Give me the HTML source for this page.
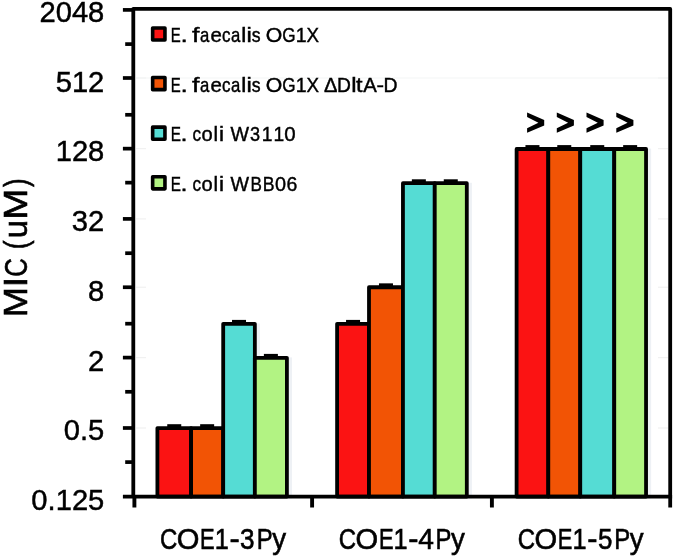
<!DOCTYPE html>
<html><head><meta charset="utf-8"><title>MIC chart</title>
<style>html,body{margin:0;padding:0;background:#fff;}svg{display:block}text{font-family:"Liberation Sans",sans-serif;fill:#000;stroke:#000}</style></head>
<body>
<svg style="will-change:transform;filter:blur(0.35px)" stroke-width="0.3" width="674" height="557" viewBox="0 0 674 557">
<rect width="674" height="557" fill="#fff"/>
<line x1="136" y1="496.50" x2="146" y2="496.50" stroke="#f1f1f1" stroke-width="1.2"/>
<line x1="658" y1="496.50" x2="668" y2="496.50" stroke="#f1f1f1" stroke-width="1.2"/>
<line x1="136" y1="428.00" x2="146" y2="428.00" stroke="#f1f1f1" stroke-width="1.2"/>
<line x1="658" y1="428.00" x2="668" y2="428.00" stroke="#f1f1f1" stroke-width="1.2"/>
<line x1="136" y1="357.60" x2="146" y2="357.60" stroke="#f1f1f1" stroke-width="1.2"/>
<line x1="658" y1="357.60" x2="668" y2="357.60" stroke="#f1f1f1" stroke-width="1.2"/>
<line x1="136" y1="287.25" x2="146" y2="287.25" stroke="#f1f1f1" stroke-width="1.2"/>
<line x1="658" y1="287.25" x2="668" y2="287.25" stroke="#f1f1f1" stroke-width="1.2"/>
<line x1="136" y1="218.90" x2="146" y2="218.90" stroke="#f1f1f1" stroke-width="1.2"/>
<line x1="658" y1="218.90" x2="668" y2="218.90" stroke="#f1f1f1" stroke-width="1.2"/>
<line x1="136" y1="148.65" x2="146" y2="148.65" stroke="#f1f1f1" stroke-width="1.2"/>
<line x1="658" y1="148.65" x2="668" y2="148.65" stroke="#f1f1f1" stroke-width="1.2"/>
<line x1="136" y1="78.00" x2="146" y2="78.00" stroke="#f1f1f1" stroke-width="1.2"/>
<line x1="658" y1="78.00" x2="668" y2="78.00" stroke="#f1f1f1" stroke-width="1.2"/>
<line x1="136" y1="9.90" x2="146" y2="9.90" stroke="#f1f1f1" stroke-width="1.2"/>
<line x1="658" y1="9.90" x2="668" y2="9.90" stroke="#f1f1f1" stroke-width="1.2"/>
<line x1="136" y1="78.00" x2="668" y2="78.00" stroke="#f3f5f6" stroke-width="1.2"/>
<rect x="160.60" y="429.60" width="33.70" height="67.00" fill="#eef1f5" stroke="#eef1f5" stroke-width="3.8"/>
<rect x="194.30" y="429.60" width="32.10" height="67.00" fill="#eef1f5" stroke="#eef1f5" stroke-width="3.8"/>
<rect x="226.40" y="325.30" width="31.65" height="171.30" fill="#eef1f5" stroke="#eef1f5" stroke-width="3.8"/>
<rect x="258.05" y="359.30" width="32.05" height="137.30" fill="#eef1f5" stroke="#eef1f5" stroke-width="3.8"/>
<rect x="157.40" y="428.10" width="33.70" height="68.50" fill="#fb1313" stroke="#000" stroke-width="3.8" stroke-linejoin="round"/>
<rect x="191.10" y="428.10" width="32.10" height="68.50" fill="#f25405" stroke="#000" stroke-width="3.8" stroke-linejoin="round"/>
<rect x="223.20" y="323.80" width="31.65" height="172.80" fill="#55dcd4" stroke="#000" stroke-width="3.8" stroke-linejoin="round"/>
<rect x="254.85" y="357.80" width="32.05" height="138.80" fill="#b2f383" stroke="#000" stroke-width="3.8" stroke-linejoin="round"/>
<rect x="167.25" y="424.20" width="14" height="4.5" fill="#000"/>
<rect x="200.15" y="424.20" width="14" height="4.5" fill="#000"/>
<rect x="232.02" y="319.90" width="14" height="4.5" fill="#000"/>
<rect x="263.88" y="353.90" width="14" height="4.5" fill="#000"/>
<rect x="340.30" y="325.30" width="31.90" height="171.30" fill="#eef1f5" stroke="#eef1f5" stroke-width="3.8"/>
<rect x="372.20" y="288.75" width="33.95" height="207.85" fill="#eef1f5" stroke="#eef1f5" stroke-width="3.8"/>
<rect x="406.15" y="184.70" width="31.80" height="311.90" fill="#eef1f5" stroke="#eef1f5" stroke-width="3.8"/>
<rect x="437.95" y="184.70" width="32.05" height="311.90" fill="#eef1f5" stroke="#eef1f5" stroke-width="3.8"/>
<rect x="337.10" y="323.80" width="31.90" height="172.80" fill="#fb1313" stroke="#000" stroke-width="3.8" stroke-linejoin="round"/>
<rect x="369.00" y="287.25" width="33.95" height="209.35" fill="#f25405" stroke="#000" stroke-width="3.8" stroke-linejoin="round"/>
<rect x="402.95" y="183.20" width="31.80" height="313.40" fill="#55dcd4" stroke="#000" stroke-width="3.8" stroke-linejoin="round"/>
<rect x="434.75" y="183.20" width="32.05" height="313.40" fill="#b2f383" stroke="#000" stroke-width="3.8" stroke-linejoin="round"/>
<rect x="346.05" y="319.90" width="14" height="4.5" fill="#000"/>
<rect x="378.98" y="283.35" width="14" height="4.5" fill="#000"/>
<rect x="411.85" y="179.30" width="14" height="4.5" fill="#000"/>
<rect x="443.77" y="179.30" width="14" height="4.5" fill="#000"/>
<rect x="519.80" y="150.50" width="31.70" height="346.10" fill="#eef1f5" stroke="#eef1f5" stroke-width="3.8"/>
<rect x="551.50" y="150.50" width="31.95" height="346.10" fill="#eef1f5" stroke="#eef1f5" stroke-width="3.8"/>
<rect x="583.45" y="150.50" width="34.00" height="346.10" fill="#eef1f5" stroke="#eef1f5" stroke-width="3.8"/>
<rect x="617.45" y="150.50" width="31.80" height="346.10" fill="#eef1f5" stroke="#eef1f5" stroke-width="3.8"/>
<rect x="516.60" y="149.00" width="31.70" height="347.60" fill="#fb1313" stroke="#000" stroke-width="3.8" stroke-linejoin="round"/>
<rect x="548.30" y="149.00" width="31.95" height="347.60" fill="#f25405" stroke="#000" stroke-width="3.8" stroke-linejoin="round"/>
<rect x="580.25" y="149.00" width="34.00" height="347.60" fill="#55dcd4" stroke="#000" stroke-width="3.8" stroke-linejoin="round"/>
<rect x="614.25" y="149.00" width="31.80" height="347.60" fill="#b2f383" stroke="#000" stroke-width="3.8" stroke-linejoin="round"/>
<rect x="525.45" y="145.10" width="14" height="4.5" fill="#000"/>
<rect x="557.27" y="145.10" width="14" height="4.5" fill="#000"/>
<rect x="590.25" y="145.10" width="14" height="4.5" fill="#000"/>
<rect x="623.15" y="145.10" width="14" height="4.5" fill="#000"/>
<path d="M133.30 496.60V8.95H670.20V507.50" fill="none" stroke="#000" stroke-width="3.8" stroke-linejoin="round"/>
<line x1="122.9" y1="496.60" x2="672.10" y2="496.60" stroke="#000" stroke-width="3.9"/>
<line x1="134.4" y1="496.60" x2="134.4" y2="507.50" stroke="#000" stroke-width="3.9"/>
<line x1="312.1" y1="496.60" x2="312.1" y2="507.50" stroke="#000" stroke-width="3.9"/>
<line x1="491.9" y1="496.60" x2="491.9" y2="507.50" stroke="#000" stroke-width="3.9"/>
<line x1="125.2" y1="462.10" x2="133.30" y2="462.10" stroke="#000" stroke-width="3.7"/>
<line x1="122.9" y1="428.00" x2="133.30" y2="428.00" stroke="#000" stroke-width="3.7"/>
<line x1="125.2" y1="391.80" x2="133.30" y2="391.80" stroke="#000" stroke-width="3.7"/>
<line x1="122.9" y1="357.60" x2="133.30" y2="357.60" stroke="#000" stroke-width="3.7"/>
<line x1="125.2" y1="323.70" x2="133.30" y2="323.70" stroke="#000" stroke-width="3.7"/>
<line x1="122.9" y1="287.25" x2="133.30" y2="287.25" stroke="#000" stroke-width="3.7"/>
<line x1="125.2" y1="253.20" x2="133.30" y2="253.20" stroke="#000" stroke-width="3.7"/>
<line x1="122.9" y1="218.90" x2="133.30" y2="218.90" stroke="#000" stroke-width="3.7"/>
<line x1="125.2" y1="182.65" x2="133.30" y2="182.65" stroke="#000" stroke-width="3.7"/>
<line x1="122.9" y1="148.65" x2="133.30" y2="148.65" stroke="#000" stroke-width="3.7"/>
<line x1="125.2" y1="114.80" x2="133.30" y2="114.80" stroke="#000" stroke-width="3.7"/>
<line x1="122.9" y1="78.00" x2="133.30" y2="78.00" stroke="#000" stroke-width="3.7"/>
<line x1="125.2" y1="44.10" x2="133.30" y2="44.10" stroke="#000" stroke-width="3.7"/>
<line x1="122.9" y1="9.90" x2="133.30" y2="9.90" stroke="#000" stroke-width="3.7"/>
<text transform="translate(104.3,510.00) scale(1.012,1)" font-size="28.8" text-anchor="end" stroke-width="0.45">0.125</text>
<text transform="translate(104.3,440.27) scale(1.012,1)" font-size="28.8" text-anchor="end" stroke-width="0.45">0.5</text>
<text transform="translate(104.3,370.54) scale(1.012,1)" font-size="28.8" text-anchor="end" stroke-width="0.45">2</text>
<text transform="translate(104.3,300.81) scale(1.012,1)" font-size="28.8" text-anchor="end" stroke-width="0.45">8</text>
<text transform="translate(104.3,231.08) scale(1.012,1)" font-size="28.8" text-anchor="end" stroke-width="0.45">32</text>
<text transform="translate(104.3,161.35) scale(1.012,1)" font-size="28.8" text-anchor="end" stroke-width="0.45">128</text>
<text transform="translate(104.3,91.62) scale(1.012,1)" font-size="28.8" text-anchor="end" stroke-width="0.45">512</text>
<text transform="translate(104.3,21.89) scale(1.012,1)" font-size="28.8" text-anchor="end" stroke-width="0.45">2048</text>
<g transform="translate(27.1,314.3) rotate(-90)" stroke-width="0.6">
<text transform="translate(-2.98,0.00) scale(1.125,1)" font-size="32.3">M</text>
<text transform="translate(27.14,0.00) scale(1.162,1)" font-size="32.3">I</text>
<text transform="translate(37.49,0.00) scale(0.797,1)" font-size="32.3">C</text>
<text transform="translate(64.96,0.00) scale(0.817,1)" font-size="32.3">(</text>
<text transform="translate(75.96,0.00) scale(1.020,1)" font-size="32.3">u</text>
<text transform="translate(94.45,0.00) scale(1.152,1)" font-size="32.3">M</text>
<text transform="translate(127.35,0.00) scale(0.794,1)" font-size="32.3">)</text>
</g>
<g stroke-width="0.6">
<text transform="translate(159.98,549.40) scale(0.822,1)" font-size="29.2">C</text>
<text transform="translate(176.72,549.40) scale(0.998,1)" font-size="29.2">O</text>
<text transform="translate(200.10,549.40) scale(0.752,1)" font-size="29.2">E</text>
<text transform="translate(229.53,549.40) scale(1.052,1)" font-size="29.2">-</text>
<text transform="translate(240.10,549.40) scale(0.896,1)" font-size="29.2">3</text>
<text transform="translate(256.64,549.40) scale(0.817,1)" font-size="29.2">P</text>
<text transform="translate(272.13,549.40) scale(0.947,1)" font-size="29.2">y</text>
<text transform="translate(214.77,549.40) scale(0.866,1)" font-size="29.2">1</text>
<text transform="translate(338.78,549.40) scale(0.822,1)" font-size="29.2">C</text>
<text transform="translate(355.52,549.40) scale(0.998,1)" font-size="29.2">O</text>
<text transform="translate(378.90,549.40) scale(0.752,1)" font-size="29.2">E</text>
<text transform="translate(408.34,549.40) scale(1.052,1)" font-size="29.2">-</text>
<text transform="translate(418.35,549.40) scale(0.965,1)" font-size="29.2">4</text>
<text transform="translate(435.44,549.40) scale(0.817,1)" font-size="29.2">P</text>
<text transform="translate(450.93,549.40) scale(0.947,1)" font-size="29.2">y</text>
<text transform="translate(393.57,549.40) scale(0.866,1)" font-size="29.2">1</text>
<text transform="translate(517.68,549.40) scale(0.822,1)" font-size="29.2">C</text>
<text transform="translate(534.42,549.40) scale(0.998,1)" font-size="29.2">O</text>
<text transform="translate(557.80,549.40) scale(0.752,1)" font-size="29.2">E</text>
<text transform="translate(587.24,549.40) scale(1.052,1)" font-size="29.2">-</text>
<text transform="translate(597.96,549.40) scale(0.888,1)" font-size="29.2">5</text>
<text transform="translate(614.34,549.40) scale(0.817,1)" font-size="29.2">P</text>
<text transform="translate(629.83,549.40) scale(0.947,1)" font-size="29.2">y</text>
<text transform="translate(572.47,549.40) scale(0.866,1)" font-size="29.2">1</text>
</g>
<rect x="152.65" y="27.95" width="12.3" height="12.1" fill="#fb1313" stroke="#000" stroke-width="3.6" stroke-linejoin="round"/>
<g stroke-width="0.42">
<text transform="translate(170.77,42.40) scale(0.762,1)" font-size="19.6">E</text>
<text transform="translate(180.50,42.40) scale(1.340,1)" font-size="19.6">.</text>
<text transform="translate(192.02,42.40) scale(1.366,1)" font-size="19.6">f</text>
<text transform="translate(199.89,42.40) scale(0.854,1)" font-size="19.6">a</text>
<text transform="translate(210.43,42.40) scale(1.044,1)" font-size="19.6">e</text>
<text transform="translate(221.88,42.40) scale(0.864,1)" font-size="19.6">c</text>
<text transform="translate(230.99,42.40) scale(0.854,1)" font-size="19.6">a</text>
<text transform="translate(241.27,42.40) scale(1.161,1)" font-size="19.6">l</text>
<text transform="translate(246.40,42.40) scale(1.219,1)" font-size="19.6">i</text>
<text transform="translate(251.71,42.40) scale(0.901,1)" font-size="19.6">s</text>
<text transform="translate(265.69,42.40) scale(1.084,1)" font-size="19.6">O</text>
<text transform="translate(282.34,42.40) scale(0.875,1)" font-size="19.6">G</text>
<text transform="translate(306.48,42.40) scale(0.957,1)" font-size="19.6">X</text>
<text transform="translate(295.82,42.40) scale(0.994,1)" font-size="19.6">1</text>
</g>
<rect x="152.65" y="77.55" width="12.3" height="12.1" fill="#f25405" stroke="#000" stroke-width="3.6" stroke-linejoin="round"/>
<g stroke-width="0.42">
<text transform="translate(170.77,91.80) scale(0.762,1)" font-size="19.6">E</text>
<text transform="translate(180.50,91.80) scale(1.340,1)" font-size="19.6">.</text>
<text transform="translate(192.02,91.80) scale(1.366,1)" font-size="19.6">f</text>
<text transform="translate(199.89,91.80) scale(0.854,1)" font-size="19.6">a</text>
<text transform="translate(210.43,91.80) scale(1.044,1)" font-size="19.6">e</text>
<text transform="translate(221.88,91.80) scale(0.864,1)" font-size="19.6">c</text>
<text transform="translate(230.99,91.80) scale(0.854,1)" font-size="19.6">a</text>
<text transform="translate(241.27,91.80) scale(1.161,1)" font-size="19.6">l</text>
<text transform="translate(246.40,91.80) scale(1.219,1)" font-size="19.6">i</text>
<text transform="translate(251.71,91.80) scale(0.901,1)" font-size="19.6">s</text>
<text transform="translate(265.69,91.80) scale(1.084,1)" font-size="19.6">O</text>
<text transform="translate(282.34,91.80) scale(0.875,1)" font-size="19.6">G</text>
<text transform="translate(306.48,91.80) scale(0.957,1)" font-size="19.6">X</text>
<text transform="translate(323.90,91.80) scale(1.024,1)" font-size="19.6">Δ</text>
<text transform="translate(336.92,91.80) scale(0.982,1)" font-size="19.6">D</text>
<text transform="translate(351.19,91.80) scale(1.219,1)" font-size="19.6">l</text>
<text transform="translate(355.94,91.80) scale(1.199,1)" font-size="19.6">t</text>
<text transform="translate(363.16,91.80) scale(1.039,1)" font-size="19.6">A</text>
<text transform="translate(376.60,91.80) scale(1.149,1)" font-size="19.6">-</text>
<text transform="translate(383.61,91.80) scale(0.991,1)" font-size="19.6">D</text>
<text transform="translate(295.82,91.80) scale(0.994,1)" font-size="19.6">1</text>
</g>
<rect x="152.65" y="127.15" width="12.3" height="12.1" fill="#55dcd4" stroke="#000" stroke-width="3.6" stroke-linejoin="round"/>
<g stroke-width="0.42">
<text transform="translate(170.64,141.20) scale(0.781,1)" font-size="19.6">E</text>
<text transform="translate(180.60,141.20) scale(1.286,1)" font-size="19.6">.</text>
<text transform="translate(192.47,141.20) scale(0.876,1)" font-size="19.6">c</text>
<text transform="translate(201.56,141.20) scale(1.027,1)" font-size="19.6">o</text>
<text transform="translate(213.52,141.20) scale(1.045,1)" font-size="19.6">l</text>
<text transform="translate(219.08,141.20) scale(1.161,1)" font-size="19.6">i</text>
<text transform="translate(230.61,141.20) scale(1.003,1)" font-size="19.6">W</text>
<text transform="translate(250.11,141.20) scale(0.925,1)" font-size="19.6">3</text>
<text transform="translate(284.30,141.20) scale(1.046,1)" font-size="19.6">0</text>
<text transform="translate(261.73,141.20) scale(0.982,1)" font-size="19.6">1</text>
<text transform="translate(273.43,141.20) scale(0.982,1)" font-size="19.6">1</text>
</g>
<rect x="152.65" y="176.75" width="12.3" height="12.1" fill="#b2f383" stroke="#000" stroke-width="3.6" stroke-linejoin="round"/>
<g stroke-width="0.42">
<text transform="translate(170.64,190.60) scale(0.781,1)" font-size="19.6">E</text>
<text transform="translate(180.60,190.60) scale(1.286,1)" font-size="19.6">.</text>
<text transform="translate(192.47,190.60) scale(0.876,1)" font-size="19.6">c</text>
<text transform="translate(201.56,190.60) scale(1.027,1)" font-size="19.6">o</text>
<text transform="translate(213.52,190.60) scale(1.045,1)" font-size="19.6">l</text>
<text transform="translate(219.08,190.60) scale(1.161,1)" font-size="19.6">i</text>
<text transform="translate(230.61,190.60) scale(1.003,1)" font-size="19.6">W</text>
<text transform="translate(250.40,190.60) scale(0.872,1)" font-size="19.6">B</text>
<text transform="translate(262.75,190.60) scale(0.901,1)" font-size="19.6">B</text>
<text transform="translate(274.92,190.60) scale(1.014,1)" font-size="19.6">0</text>
<text transform="translate(286.61,190.60) scale(0.995,1)" font-size="19.6">6</text>
</g>
<polygon points="527.1,112.6 544.2,119.9 544.2,125.4 527.1,132.8 527.1,128.2 538.4,122.7 527.1,117.1" fill="#000"/>
<polygon points="556.8,112.6 573.9,119.9 573.9,125.4 556.8,132.8 556.8,128.2 568.1,122.7 556.8,117.1" fill="#000"/>
<polygon points="586.5,112.6 603.6,119.9 603.6,125.4 586.5,132.8 586.5,128.2 597.8,122.7 586.5,117.1" fill="#000"/>
<polygon points="616.3,112.6 633.4,119.9 633.4,125.4 616.3,132.8 616.3,128.2 627.6,122.7 616.3,117.1" fill="#000"/>
</svg>
</body></html>
